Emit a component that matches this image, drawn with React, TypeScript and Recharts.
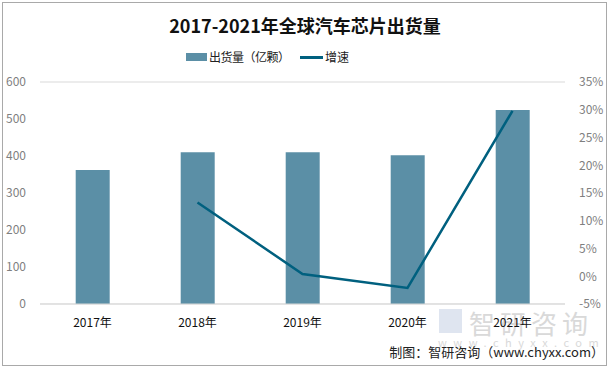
import React from 'react';
import { ComposedChart, Bar, Line, XAxis, YAxis, CartesianGrid } from 'recharts';

const years = ['2017年', '2018年', '2019年', '2020年', '2021年'];
const shipments = [362, 410, 410, 402, 524];
const growth: (number | null)[] = [null, 13.3, 0.4, -2.1, 29.8];
const leftTicks = [0, 100, 200, 300, 400, 500, 600];
const rightTicks = [-5, 0, 5, 10, 15, 20, 25, 30, 35];

const BAR = '#5b8fa6';
const LINE = '#00607f';
const FONT = '"Noto Sans CJK SC", "Microsoft YaHei", sans-serif';

const data = years.map((year, i) => ({ year, shipments: shipments[i], growth: growth[i] }));

export default function App() {
  return (
    <div style={{ position: 'absolute', left: 0, top: 0, width: 610, height: 368, background: '#fff', fontFamily: FONT }}>
      <div style={{ position: 'absolute', left: 2, top: 2, width: 603, height: 362, border: '1px solid #a9a9a9' }} />
      <div style={{ position: 'absolute', left: 0, top: 12, width: 610, textAlign: 'center', fontSize: 18, fontWeight: 'bold', color: '#111' }}>
        2017-2021年全球汽车芯片出货量
      </div>
      {/* legend */}
      <div style={{ position: 'absolute', left: 186, top: 53, width: 21, height: 8, background: BAR }} />
      <div style={{ position: 'absolute', left: 209, top: 48, fontSize: 12, color: '#222', letterSpacing: -0.5, whiteSpace: 'nowrap' }}>出货量（亿颗）</div>
      <div style={{ position: 'absolute', left: 300, top: 56, width: 23, height: 3, background: LINE }} />
      <div style={{ position: 'absolute', left: 325, top: 48, fontSize: 12, color: '#222', whiteSpace: 'nowrap' }}>增速</div>
      {/* watermark */}
      <div style={{ position: 'absolute', left: 439, top: 309, width: 23, height: 24, background: '#c9d3e6', opacity: 0.6 }} />
      <div style={{ position: 'absolute', left: 469, top: 304, fontSize: 26, color: '#d9d9d9', letterSpacing: 5, whiteSpace: 'nowrap' }}>智研咨询</div>
      <div style={{ position: 'absolute', left: 438, top: 334, fontSize: 11, color: '#d9d9d9', letterSpacing: 6.5, whiteSpace: 'nowrap' }}>www.chyxx.com</div>

      <ComposedChart
        width={610}
        height={368}
        data={data}
        margin={{ top: 82, right: 0, bottom: 30, left: 0 }}
        barCategoryGap="34%"
        style={{ position: 'absolute', left: 0, top: 0 }}
      >
        <CartesianGrid vertical={false} stroke="#d9d9d9" />
        <XAxis
          dataKey="year"
          axisLine={{ stroke: '#d9d9d9' }}
          tickLine={false}
          tick={{ fill: '#111', fontSize: 12, fontFamily: FONT }}
          tickMargin={8}
          height={34}
        />
        <YAxis
          yAxisId="left"
          domain={[0, 600]}
          ticks={leftTicks}
          axisLine={false}
          tickLine={false}
          tick={{ fill: '#7f7f7f', fontSize: 12, fontFamily: FONT }}
          tickMargin={8}
          width={40}
        />
        <YAxis
          yAxisId="right"
          orientation="right"
          domain={[-5, 35]}
          ticks={rightTicks}
          tickFormatter={(v: number) => `${v}%`}
          axisLine={false}
          tickLine={false}
          tick={{ fill: '#7f7f7f', fontSize: 12, fontFamily: FONT }}
          tickMargin={8}
          width={45}
        />
        <Bar yAxisId="left" dataKey="shipments" fill={BAR} isAnimationActive={false} />
        <Line
          yAxisId="right"
          dataKey="growth"
          stroke={LINE}
          strokeWidth={2.5}
          dot={false}
          activeDot={false}
          connectNulls={false}
          isAnimationActive={false}
        />
      </ComposedChart>

      <div style={{ position: 'absolute', right: 6, top: 342, fontSize: 13, color: '#222', whiteSpace: 'nowrap' }}>
        制图：智研咨询（www.chyxx.com）
      </div>
    </div>
  );
}
